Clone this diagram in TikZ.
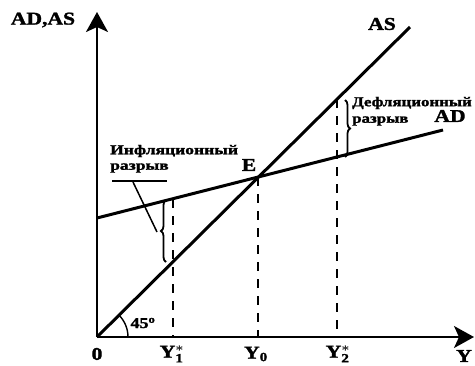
\documentclass[tikz,border=0pt]{standalone}
\usepackage{fontspec}
\usepackage{graphicx}
\usepackage{amsmath}
\setmainfont{Liberation Serif}[BoldFeatures={FakeBold=1.5}]
\usetikzlibrary{arrows.meta,decorations.pathreplacing}
\newcommand{\widetxt}[1]{\scalebox{1.2}[1]{#1}}
\begin{document}
\begin{tikzpicture}[x=1pt,y=-1pt,
  axis/.style={line width=2pt,-{Stealth[length=20pt,width=22pt,inset=5pt]}},
  curve/.style={line width=3pt},
  guide/.style={line width=2.4pt,dash pattern=on 9pt off 8pt},
  bigl/.style={font=\bfseries\fontsize{18}{18}\selectfont},
  smalll/.style={font=\bfseries\fontsize{13.5}{13.5}\selectfont,inner sep=0pt,anchor=west},
  bracestyle/.style={line width=1.8pt,decorate,decoration={brace,amplitude=5pt}}]
\useasboundingbox (0,0) rectangle (475,365);
\fill[white] (0,0) rectangle (475,365);
% coordinates
\coordinate (O) at (97,337);
\coordinate (ytop) at (97,12);
\coordinate (xend) at (474,337);
\coordinate (ASend) at (410,27);
\coordinate (ADstart) at (97,218);
\coordinate (ADend) at (443,130);
\coordinate (E) at (258,177);
\coordinate (Y0) at (258,337);
\coordinate (A1) at (173,199);
\coordinate (Y1) at (173,337);
\coordinate (A2) at (337,99);
\coordinate (Y2) at (337,337);
% axes
\draw[axis] (O) -- (ytop);
\draw[axis] (O) -- (xend);
% curves
\draw[curve] (O) -- (ASend);
\draw[curve] (ADstart) -- (ADend);
% guides
\draw[guide] (E) -- (Y0);
\draw[guide] (A1) -- (Y1);
\draw[guide] (A2) -- (Y2);
% 45 degree arc
\coordinate (arcstart) at (128,337);
\draw[line width=1.4pt] (arcstart) arc[start angle=0,end angle=-45,radius=31];
% braces
\coordinate (b1bot) at (166,262);
\coordinate (b1top) at (166,200);
\draw[bracestyle] (b1bot) -- (b1top);
\coordinate (b2top) at (345,100);
\coordinate (b2bot) at (345,157);
\draw[bracestyle] (b2top) -- (b2bot);
% inflation label pointer
\coordinate (ul1) at (112,181);
\coordinate (ul2) at (167,181);
\coordinate (pt1) at (133,182);
\coordinate (pt2) at (157,232);
\draw[line width=1.5pt] (ul1) -- (ul2);
\draw[line width=1.5pt] (pt1) -- (pt2);
% labels
\node[bigl] (lADAS) at (43,20) {\widetxt{AD,AS}};
\node[bigl] (lAS) at (382,24) {\widetxt{AS}};
\node[bigl] (lAD) at (450,116) {\widetxt{AD}};
\node[bigl] (lE) at (249,165) {\widetxt{E}};
\node[bigl] (l0) at (97,354) {\widetxt{0}};
\node[bigl] (lY1) at (172,354) {\widetxt{Y$^{\boldsymbol{*}}_{\mathbf{1}}$}};
\node[bigl] (lY0) at (256,354) {\widetxt{Y$_{\mathbf{0}}$}};
\node[bigl] (lY2) at (338,354) {\widetxt{Y$^{\boldsymbol{*}}_{\mathbf{2}}$}};
\node[bigl] (lY) at (464,356) {\widetxt{Y}};
\node[font=\bfseries\fontsize{15}{15}\selectfont] (l45) at (143,323) {\widetxt{45$^{\mathbf{o}}$}};
\node[smalll] (linf1) at (110,151) {\scalebox{1.3}[1]{Инфляционный}};
\node[smalll] (linf2) at (110,168) {\scalebox{1.3}[1]{разрыв}};
\node[smalll] (ldef1) at (352,103) {\scalebox{1.25}[1]{Дефляционный}};
\node[smalll] (ldef2) at (352,121) {\scalebox{1.25}[1]{разрыв}};
\end{tikzpicture}
\end{document}
